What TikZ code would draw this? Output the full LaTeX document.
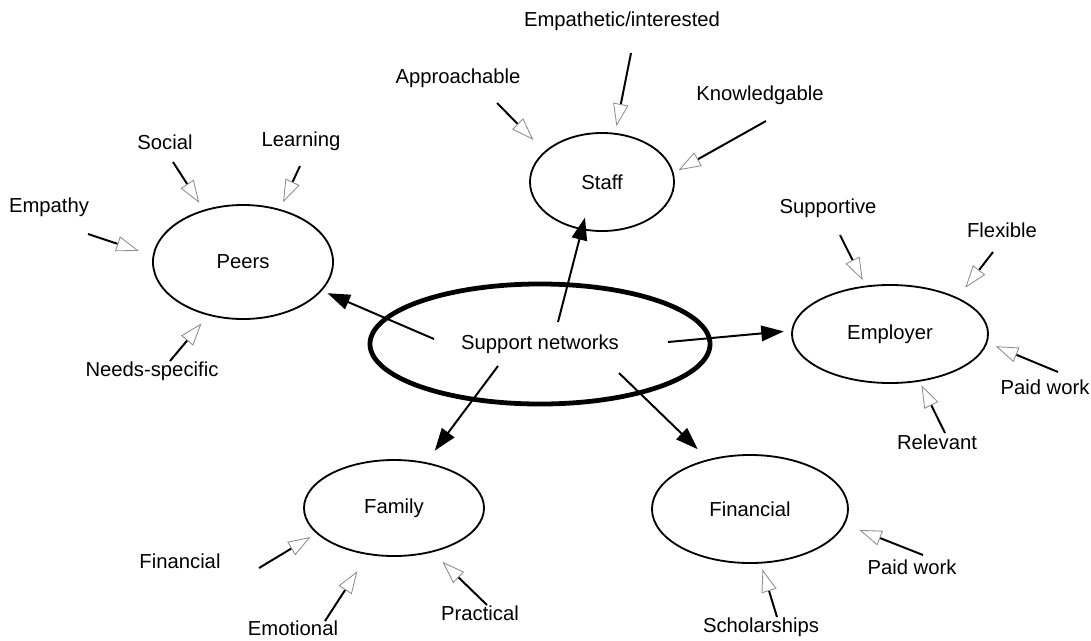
\documentclass[tikz,border=0pt]{standalone}
\usepackage{fontspec}
\setmainfont{Liberation Sans}
\usetikzlibrary{shapes.geometric,arrows.meta}

\tikzset{
  hub/.style={ellipse, draw, line width=1.3pt, inner sep=0pt, outer sep=0pt},
  core/.style={hub, line width=3.4pt},
  feed/.style={line width=1.4pt, shorten >=#1,
    -{Triangle[color=black!45, fill=white, line width=0.6pt, length=16pt, width=11pt]}},
  feed/.default=0pt,
  link/.style={line width=1.4pt, shorten >=#1, -{Triangle[length=16pt, width=11pt]}},
  link/.default=0pt
}

\begin{document}
\begin{tikzpicture}[x=0.025cm, y=-0.025cm, font=\fontsize{14.4}{17}\selectfont]
  \useasboundingbox (0,0) rectangle (1091,640);

  % the six networks
  \node[core, minimum width=8.5cm, minimum height=3cm] (support) at (540,344) {Support networks};
  \node[hub, minimum width=4.5cm, minimum height=2.85cm] (peers) at (243,262) {Peers};
  \node[hub, minimum width=3.6cm, minimum height=2.45cm] (staff) at (602,182) {Staff};
  \node[hub, minimum width=4.9cm, minimum height=2.45cm] (employer) at (890,334) {Employer};
  \node[hub, minimum width=4.5cm, minimum height=2.4cm] (family) at (394,508) {Family};
  \node[hub, minimum width=4.9cm, minimum height=2.7cm] (financial) at (750,509) {Financial};

  % links out of the centre
  \coordinate (s-peers) at (434,339);
  \coordinate (s-staff) at (558,322);
  \coordinate (s-employer) at (668,342);
  \coordinate (s-family) at (498,366);
  \coordinate (s-financial) at (619,373);
  \draw[link=5pt] (s-peers) -- (peers.340);
  \draw[link=-8.5pt] (s-staff) -- (staff.247);
  \draw[link=6pt] (s-employer) -- (employer.178);
  \draw[link=11pt] (s-family) -- (family.55);
  \draw[link=11pt] (s-financial) -- (financial.130);

  % peers
  \node (empathy) at (49,207) {Empathy};
  \node (social) at (165,142) {Social};
  \node (learning) at (301,141) {Learning};
  \node (needs) at (152,371) {Needs-specific};
  \coordinate (t-empathy) at (88,234);
  \coordinate (t-social) at (173,162);
  \coordinate (t-learning) at (300,166);
  \coordinate (t-needs) at (170,361);
  \draw[feed=11pt] (t-empathy) -- (peers.176);
  \draw[feed=6.5pt] (t-social) -- (peers.127);
  \draw[feed=6pt] (t-learning) -- (peers.55);
  \draw[feed=8pt] (t-needs) -- (peers.237);

  % staff
  \node (empathetic) at (622,21) {Empathetic/interested};
  \node (approachable) at (458,78) {Approachable};
  \node (knowledgable) at (760,95) {Knowledgable};
  \coordinate (t-empathetic) at (631,53);
  \coordinate (t-approachable) at (497,103);
  \coordinate (t-knowledgable) at (766,121);
  \draw[feed=5.5pt] (t-empathetic) -- (staff.75);
  \draw[feed=12pt] (t-approachable) -- (staff.152);
  \draw[feed=4.5pt] (t-knowledgable) -- (staff.7);

  % employer
  \node (supportive) at (828,208) {Supportive};
  \node (flexible) at (1002,230) {Flexible};
  \node (paid-e) at (1045,387) {Paid work};
  \node (relevant) at (937,442) {Relevant};
  \coordinate (t-supportive) at (840,235);
  \coordinate (t-flexible) at (993,252);
  \coordinate (t-paid-e) at (1058,372);
  \coordinate (t-relevant) at (945,433);
  \draw[feed=5pt] (t-supportive) -- (employer.117);
  \draw[feed=9.5pt] (t-flexible) -- (employer.28);
  \draw[feed=7pt] (t-paid-e) -- (employer.355);
  \draw[feed=3.5pt] (t-relevant) -- (employer.302);

  % family
  \node (money) at (180,561) {Financial};
  \node (emotional) at (293,628) {Emotional};
  \node (practical) at (480,613) {Practical};
  \coordinate (t-money) at (259,568);
  \coordinate (t-emotional) at (325,621);
  \coordinate (t-practical) at (487,605);
  \draw[feed=5.5pt] (t-money) -- (family.198);
  \draw[feed=14.5pt] (t-emotional) -- (family.241);
  \draw[feed=10.5pt] (t-practical) -- (family.311);

  % financial
  \node (paid-f) at (912,567) {Paid work};
  \node (scholarships) at (761,627) {Scholarships};
  \coordinate (t-paid-f) at (923,555);
  \coordinate (t-scholarships) at (777,617);
  \draw[feed=11.5pt] (t-paid-f) -- (financial.351);
  \draw[feed=5pt] (t-scholarships) -- (financial.281);
\end{tikzpicture}
\end{document}
